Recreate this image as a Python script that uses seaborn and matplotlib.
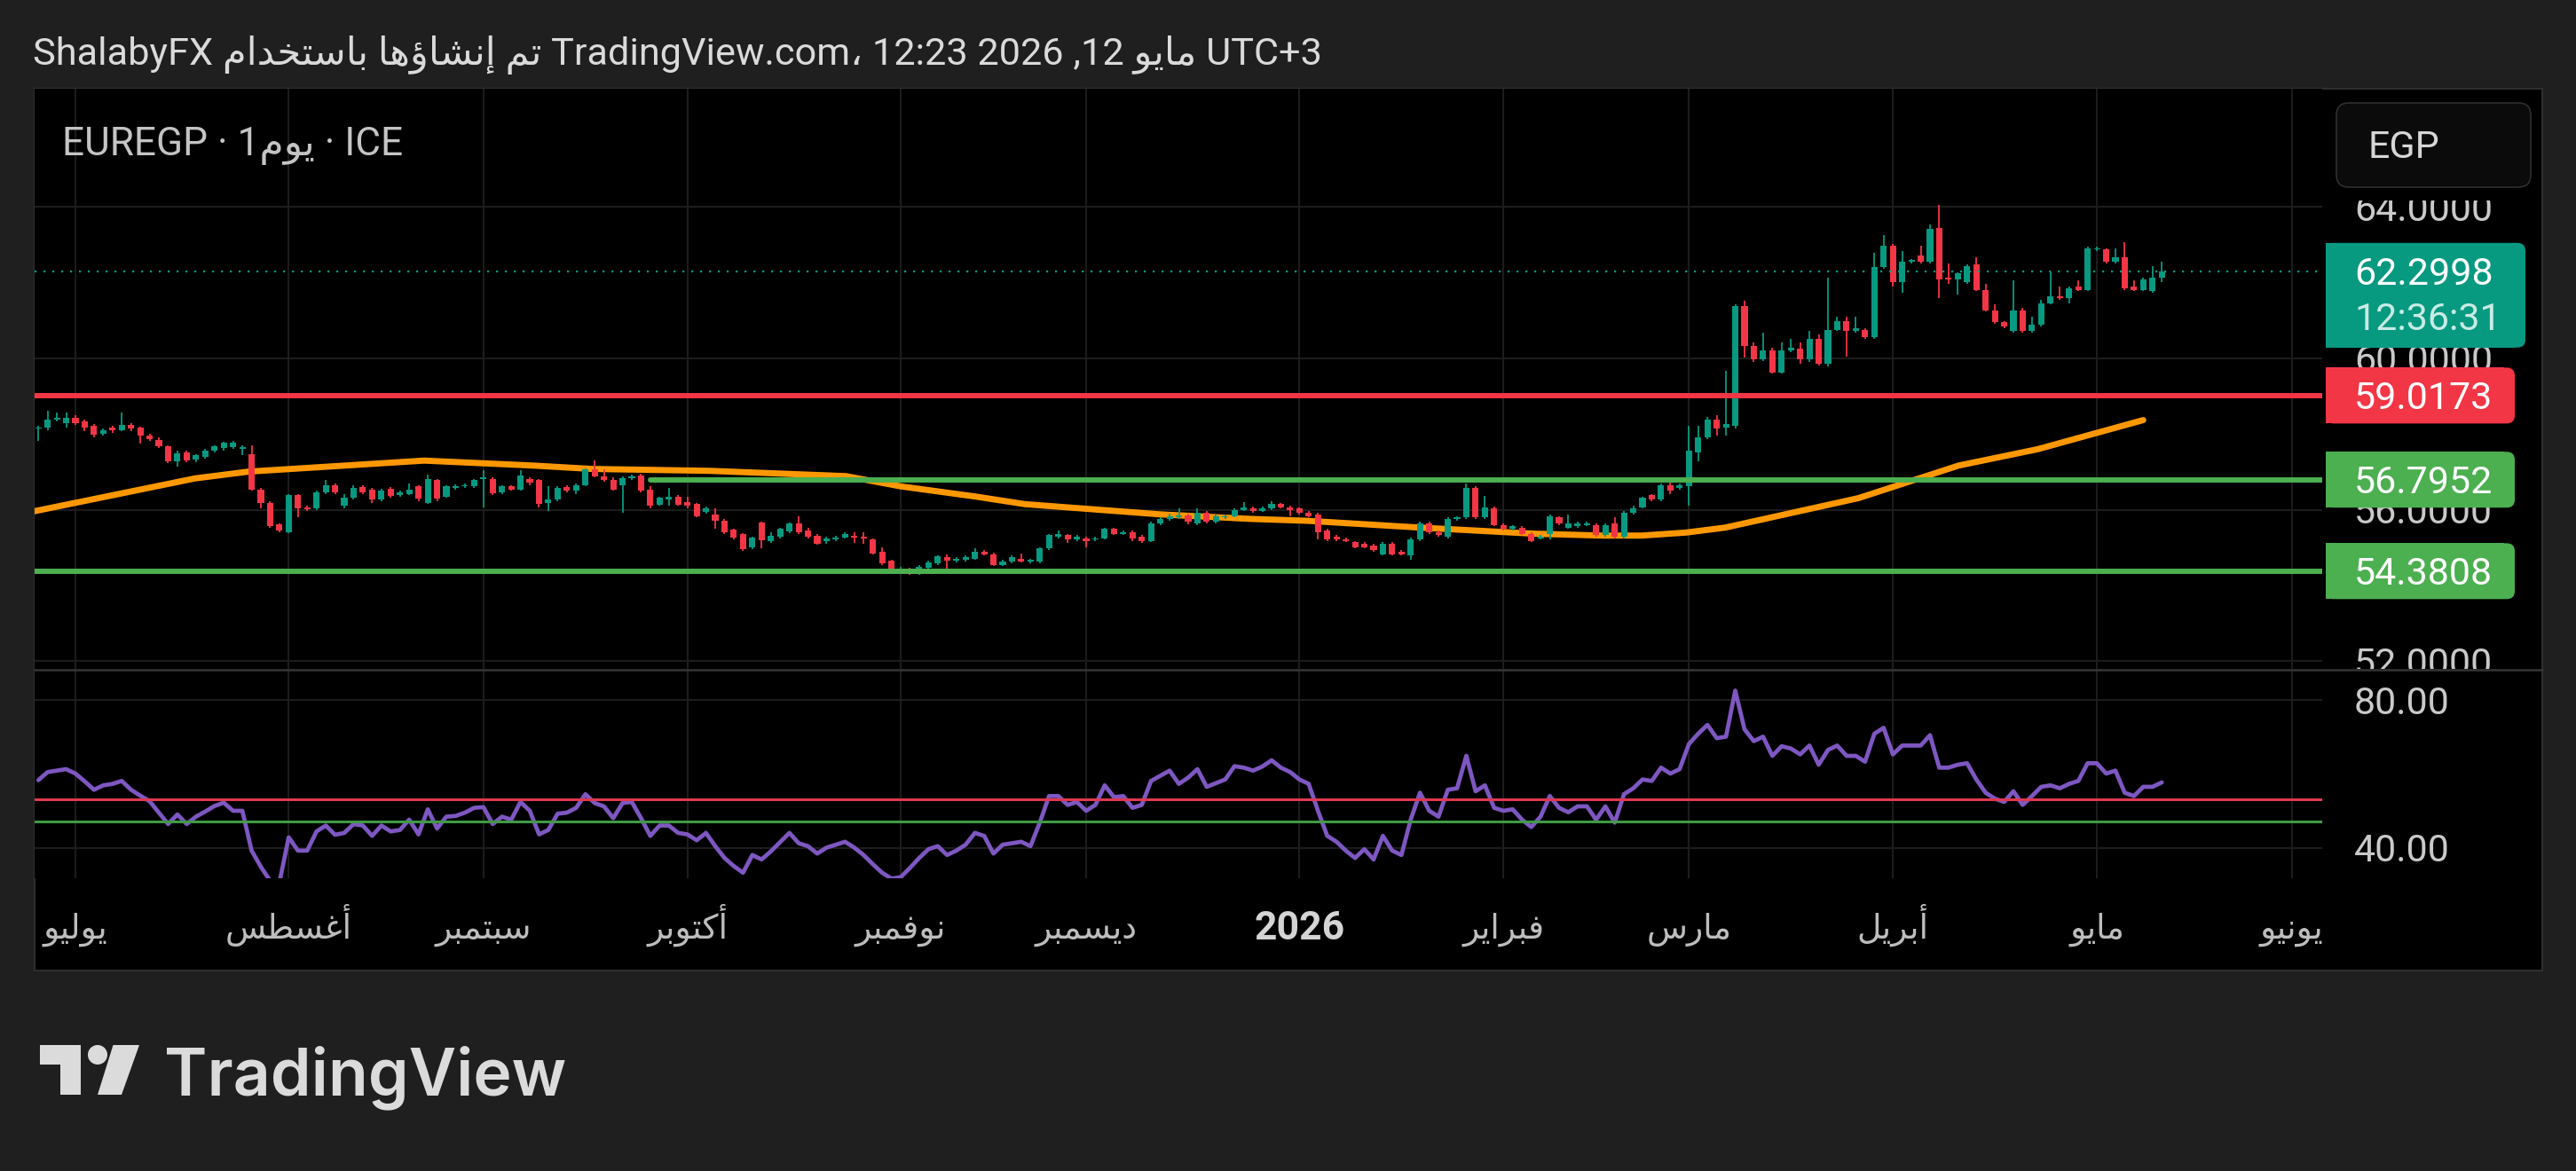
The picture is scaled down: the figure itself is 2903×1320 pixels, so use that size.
import matplotlib
matplotlib.use("Agg")
import numpy as np
import pandas as pd
import matplotlib.pyplot as plt
import seaborn as sns
from matplotlib.patches import Rectangle, FancyBboxPatch, Circle, Polygon
from matplotlib.transforms import IdentityTransform, Bbox

# ---------------------------------------------------------------- data
bar_index = list(range(-4, 226))
opens = [
 58.14, 58.16, 58.38, 58.30, 58.44, 58.34, 58.22, 58.00, 58.18, 58.10,
 58.24, 58.16, 57.95, 57.85, 57.67, 57.28, 57.52, 57.32, 57.40, 57.56,
 57.64, 57.66, 57.61, 57.48, 56.54, 56.19, 55.61, 55.41, 56.39, 56.07,
 56.03, 56.46, 56.66, 56.11, 56.31, 56.60, 56.54, 56.27, 56.56, 56.39,
 56.42, 56.62, 56.19, 56.78, 56.35, 56.58, 56.62, 56.62, 56.82, 56.82,
 56.46, 56.62, 56.54, 56.82, 56.78, 56.19, 56.27, 56.60, 56.50, 56.66,
 57.07, 56.88, 56.80, 56.66, 56.83, 56.91, 56.54, 56.13, 56.28, 56.35,
 56.21, 56.15, 55.94, 55.88, 55.72, 55.47, 55.35, 55.00, 55.66, 55.18,
 55.29, 55.43, 55.63, 55.45, 55.32, 55.18, 55.22, 55.27, 55.32, 55.29,
 55.22, 54.90, 54.65, 54.33, 54.41, 54.32, 54.47, 54.59, 54.76, 54.65,
 54.67, 54.71, 54.90, 54.83, 54.55, 54.63, 54.71, 54.63, 54.63, 54.98,
 55.29, 55.33, 55.22, 55.25, 55.22, 55.25, 55.49, 55.37, 55.41, 55.29,
 55.18, 55.64, 55.76, 55.80, 55.86, 55.64, 55.92, 55.68, 55.80, 55.84,
 55.99, 56.04, 55.98, 56.04, 56.15, 56.07, 56.04, 55.92, 55.88, 55.45,
 55.29, 55.22, 55.14, 55.10, 55.06, 54.82, 55.10, 54.90, 54.79, 55.22,
 55.64, 55.41, 55.29, 55.76, 55.80, 56.58, 55.80, 56.04, 55.60, 55.49,
 55.53, 55.37, 55.25, 55.37, 55.80, 55.53, 55.57, 55.60, 55.60, 55.33,
 55.64, 55.29, 55.92, 56.07, 56.39, 56.27, 56.66, 56.58, 56.62, 57.52,
 57.91, 58.38, 58.18, 58.22, 61.38, 60.33, 59.98, 60.21, 59.63, 60.21,
 60.25, 59.98, 60.52, 59.86, 60.76, 60.99, 60.72, 60.76, 60.56, 62.40,
 62.98, 62.01, 62.55, 62.71, 62.55, 63.45, 62.12, 62.08, 62.01, 62.48,
 61.81, 61.27, 60.95, 60.72, 61.27, 60.72, 60.88, 61.46, 61.65, 61.58,
 61.89, 61.81, 62.87, 62.87, 62.55, 62.67, 61.89, 61.81, 61.77, 62.12]
highs = [
 58.22, 58.61, 58.57, 58.57, 58.50, 58.38, 58.26, 58.14, 58.22, 58.57,
 58.30, 58.20, 58.00, 57.91, 57.71, 57.56, 57.56, 57.48, 57.61, 57.71,
 57.80, 57.83, 57.71, 57.71, 56.58, 56.22, 55.65, 56.42, 56.42, 56.11,
 56.50, 56.78, 56.70, 56.42, 56.66, 56.64, 56.58, 56.56, 56.60, 56.52,
 56.70, 56.66, 56.93, 56.82, 56.66, 56.68, 56.70, 56.82, 57.05, 56.86,
 56.66, 56.66, 57.05, 56.86, 56.82, 56.62, 56.62, 56.64, 56.70, 57.10,
 57.30, 57.07, 56.85, 56.88, 56.93, 56.96, 56.62, 56.35, 56.58, 56.39,
 56.35, 56.19, 56.08, 56.04, 55.76, 55.51, 55.39, 55.30, 55.70, 55.41,
 55.53, 55.66, 55.82, 55.53, 55.37, 55.29, 55.32, 55.41, 55.41, 55.41,
 55.25, 55.00, 54.69, 54.49, 54.47, 54.55, 54.65, 54.80, 54.82, 54.75,
 54.80, 54.98, 54.94, 54.86, 54.67, 54.79, 54.85, 54.71, 55.02, 55.37,
 55.45, 55.37, 55.33, 55.29, 55.29, 55.53, 55.53, 55.45, 55.45, 55.33,
 55.68, 55.80, 55.90, 56.03, 55.90, 56.04, 55.96, 55.88, 55.88, 56.03,
 56.20, 56.08, 56.08, 56.23, 56.19, 56.10, 56.07, 55.96, 55.92, 55.49,
 55.33, 55.26, 55.18, 55.14, 55.10, 55.14, 55.14, 54.94, 55.26, 55.68,
 55.68, 55.45, 55.80, 55.84, 56.70, 56.62, 56.37, 56.08, 55.64, 55.60,
 55.57, 55.41, 55.33, 55.88, 55.84, 55.88, 55.68, 55.68, 55.64, 55.64,
 55.80, 55.96, 56.10, 56.35, 56.42, 56.70, 56.74, 56.70, 58.22, 58.22,
 58.45, 58.50, 59.67, 61.42, 61.52, 60.41, 60.68, 60.29, 60.41, 60.52,
 60.41, 60.72, 60.62, 62.12, 61.11, 61.11, 61.11, 60.80, 62.79, 63.26,
 63.02, 62.83, 62.63, 62.98, 63.53, 64.04, 62.51, 62.28, 62.48, 62.67,
 61.97, 61.42, 60.99, 62.05, 61.34, 61.11, 61.54, 62.28, 61.89, 61.89,
 62.05, 62.94, 62.94, 62.90, 62.90, 63.06, 62.05, 62.12, 62.44, 62.55]
lows = [
 57.83, 58.10, 58.34, 58.16, 58.24, 58.07, 57.91, 57.95, 58.03, 58.07,
 58.07, 57.75, 57.83, 57.64, 57.24, 57.13, 57.26, 57.26, 57.36, 57.52,
 57.56, 57.61, 57.44, 56.50, 56.03, 55.53, 55.41, 55.38, 55.80, 55.98,
 56.00, 56.42, 56.42, 56.03, 56.27, 56.42, 56.19, 56.23, 56.31, 56.35,
 56.39, 56.23, 56.15, 56.23, 56.31, 56.54, 56.58, 56.58, 56.07, 56.39,
 56.42, 56.50, 56.50, 56.66, 56.07, 55.96, 56.23, 56.46, 56.42, 56.62,
 56.85, 56.74, 56.50, 55.92, 56.80, 56.46, 56.05, 56.10, 56.11, 56.10,
 56.05, 55.80, 55.90, 55.49, 55.37, 55.22, 54.92, 54.96, 54.98, 55.12,
 55.25, 55.39, 55.37, 55.25, 55.08, 55.10, 55.18, 55.24, 55.12, 55.10,
 54.82, 54.55, 54.30, 54.30, 54.28, 54.28, 54.43, 54.55, 54.32, 54.61,
 54.63, 54.67, 54.79, 54.51, 54.51, 54.59, 54.60, 54.59, 54.59, 54.94,
 55.25, 55.12, 55.18, 55.02, 55.18, 55.22, 55.33, 55.33, 55.18, 55.12,
 55.14, 55.60, 55.72, 55.76, 55.62, 55.60, 55.64, 55.64, 55.76, 55.80,
 55.96, 55.92, 55.94, 56.00, 56.03, 55.84, 55.88, 55.80, 55.22, 55.18,
 55.18, 55.14, 54.98, 54.98, 54.90, 54.79, 54.79, 54.79, 54.67, 55.18,
 55.37, 55.29, 55.25, 55.72, 55.76, 55.76, 55.76, 55.56, 55.45, 55.45,
 55.33, 55.14, 55.21, 55.22, 55.60, 55.49, 55.53, 55.56, 55.29, 55.29,
 55.25, 55.25, 55.88, 56.03, 56.23, 56.23, 56.42, 56.54, 56.11, 57.28,
 57.87, 57.95, 57.95, 58.14, 60.02, 59.90, 59.94, 59.60, 59.60, 60.17,
 59.86, 59.90, 59.82, 59.78, 60.72, 60.05, 60.68, 60.52, 60.52, 62.36,
 61.89, 61.73, 62.51, 62.51, 62.51, 61.58, 61.97, 61.69, 61.97, 61.77,
 61.23, 60.92, 60.80, 60.68, 60.68, 60.68, 60.84, 61.42, 61.54, 61.46,
 61.77, 61.77, 62.83, 62.51, 62.51, 61.81, 61.77, 61.77, 61.73, 62.01]
closes = [
 58.18, 58.38, 58.42, 58.44, 58.30, 58.18, 57.99, 58.10, 58.10, 58.24,
 58.14, 57.95, 57.87, 57.69, 57.28, 57.50, 57.30, 57.44, 57.56, 57.67,
 57.77, 57.78, 57.66, 56.54, 56.19, 55.57, 55.45, 56.39, 56.03, 56.02,
 56.46, 56.64, 56.46, 56.33, 56.58, 56.46, 56.27, 56.52, 56.36, 56.46,
 56.54, 56.29, 56.82, 56.29, 56.62, 56.62, 56.66, 56.78, 56.86, 56.44,
 56.62, 56.54, 56.91, 56.72, 56.15, 56.27, 56.58, 56.50, 56.66, 57.07,
 56.88, 56.78, 56.54, 56.83, 56.89, 56.50, 56.10, 56.31, 56.35, 56.13,
 56.11, 55.84, 56.05, 55.71, 55.41, 55.27, 54.96, 55.27, 55.19, 55.32,
 55.49, 55.63, 55.41, 55.29, 55.11, 55.24, 55.27, 55.35, 55.27, 55.25,
 54.85, 54.59, 54.32, 54.41, 54.33, 54.49, 54.61, 54.77, 54.65, 54.71,
 54.75, 54.90, 54.83, 54.55, 54.63, 54.75, 54.63, 54.67, 54.98, 55.33,
 55.37, 55.21, 55.29, 55.18, 55.25, 55.49, 55.37, 55.41, 55.25, 55.18,
 55.64, 55.76, 55.84, 55.86, 55.68, 55.92, 55.68, 55.84, 55.84, 55.99,
 56.07, 55.96, 56.04, 56.15, 56.07, 55.99, 55.92, 55.84, 55.41, 55.22,
 55.22, 55.18, 55.02, 55.02, 54.94, 55.10, 54.82, 54.83, 55.22, 55.64,
 55.41, 55.33, 55.76, 55.80, 56.58, 55.80, 56.06, 55.60, 55.49, 55.56,
 55.37, 55.18, 55.29, 55.84, 55.64, 55.64, 55.64, 55.64, 55.33, 55.60,
 55.29, 55.92, 56.04, 56.31, 56.27, 56.66, 56.50, 56.66, 57.56, 57.91,
 58.38, 58.14, 58.26, 61.38, 60.33, 59.98, 60.21, 59.63, 60.21, 60.29,
 59.98, 60.52, 59.86, 60.76, 60.99, 60.72, 60.80, 60.56, 62.40, 62.98,
 62.01, 62.55, 62.59, 62.55, 63.41, 62.08, 62.08, 62.24, 62.44, 61.81,
 61.27, 60.95, 60.84, 61.27, 60.72, 60.88, 61.46, 61.65, 61.58, 61.85,
 61.81, 62.90, 62.90, 62.55, 62.67, 61.85, 61.81, 62.08, 62.12, 62.30]
rsi_values = [
 58.3, 60.5, 60.9, 61.3, 60.1, 58.0, 55.7, 56.9, 57.3, 58.1,
 55.7, 54.1, 52.6, 49.5, 46.4, 49.0, 46.4, 48.4, 49.8, 51.3,
 52.2, 50.0, 50.0, 39.2, 34.8, 31.0, 30.5, 42.8, 39.2, 39.2,
 44.4, 46.0, 43.5, 44.0, 46.4, 46.0, 43.2, 46.0, 44.4, 44.8,
 47.6, 43.6, 50.4, 45.2, 48.4, 48.6, 49.5, 50.8, 51.0, 46.4,
 48.4, 47.6, 52.4, 50.0, 43.6, 44.8, 49.2, 49.5, 50.8, 54.5,
 52.1, 51.2, 48.0, 52.1, 52.4, 48.0, 43.2, 46.0, 46.0, 44.0,
 43.6, 42.0, 44.0, 40.4, 37.2, 35.0, 33.2, 38.0, 36.8, 39.0,
 41.5, 44.0, 41.2, 40.4, 38.4, 40.0, 40.8, 41.6, 40.0, 38.0,
 35.5, 33.2, 31.6, 32.0, 34.5, 37.2, 39.6, 40.4, 38.0, 39.2,
 40.8, 44.0, 43.2, 38.4, 40.8, 41.2, 41.6, 40.4, 46.8, 54.0,
 54.0, 51.6, 52.4, 50.0, 51.6, 56.9, 53.7, 54.0, 50.8, 51.6,
 58.1, 59.5, 60.9, 57.3, 59.0, 61.3, 56.5, 57.5, 58.5, 62.1,
 61.7, 60.9, 62.0, 63.7, 61.7, 60.5, 58.5, 57.3, 50.0, 43.2,
 41.6, 39.2, 37.2, 39.6, 36.8, 43.2, 39.2, 38.0, 47.6, 54.9,
 50.0, 48.4, 55.7, 56.1, 64.9, 55.3, 56.9, 50.8, 50.0, 50.4,
 47.6, 45.6, 48.4, 54.0, 50.8, 49.6, 51.2, 51.2, 47.6, 51.2,
 46.8, 54.5, 56.1, 58.5, 58.1, 61.7, 60.1, 61.3, 68.1, 70.9,
 73.3, 69.7, 70.1, 82.6, 72.1, 68.9, 70.1, 64.9, 67.5, 66.9,
 65.3, 67.7, 62.5, 66.5, 67.7, 64.9, 64.9, 63.3, 70.9, 72.5,
 65.3, 67.7, 67.7, 67.7, 70.5, 61.7, 61.7, 62.5, 62.9, 58.5,
 54.9, 53.3, 52.4, 55.3, 51.6, 54.0, 56.5, 56.9, 56.1, 57.3,
 58.1, 62.9, 62.9, 60.1, 60.9, 54.9, 54.0, 56.5, 56.5, 57.7]
ma_index = [-4.5, 12.9, 18.7, 37.6, 49.3, 55.7, 68.4, 83.1, 89.0, 97.1, 102.4, 117.0,
            126.8, 132.9, 145.1, 157.3, 164.7, 168.9, 173.7, 177.9, 192.3, 203.1, 211.6, 223.0]
ma_values = [55.96, 56.83, 57.01, 57.30, 57.17, 57.08, 57.03, 56.89, 56.62, 56.35, 56.15, 55.88,
             55.76, 55.71, 55.53, 55.37, 55.32, 55.32, 55.40, 55.53, 56.31, 57.17, 57.60, 58.37]
month_labels = ["يوليو", "أغسطس", "سبتمبر", "أكتوبر", "نوفمبر", "ديسمبر", "2026",
                "فبراير", "مارس", "أبريل", "مايو", "يونيو"]
month_index = [0, 23, 44, 66, 89, 109, 132, 154, 174, 196, 218, 239]
price_ticks = [52, 56, 60, 64]
rsi_ticks = [40, 80]
resistance = 59.0173
support_upper = 56.7952
support_upper_start = 62
support_lower = 54.3808
last_price = 62.2998
countdown = "12:36:31"
rsi_upper = 53
rsi_lower = 47
symbol_parts = ("EUREGP · 1", "يوم", " · ICE")
currency = "EGP"
header_parts = ("ShalabyFX", "تم إنشاؤها باستخدام", "TradingView.com، 12:23 2026 ,12", "مايو", "UTC+3")
brand = "TradingView"

# ---------------------------------------------------------------- arabic shaping
AR = {
    'ا': ('\uFE8D', '\uFE8E', None, None), 'أ': ('\uFE83', '\uFE84', None, None),
    'إ': ('\uFE87', '\uFE88', None, None), 'ؤ': ('\uFE85', '\uFE86', None, None),
    'د': ('\uFEA9', '\uFEAA', None, None), 'ر': ('\uFEAD', '\uFEAE', None, None),
    'و': ('\uFEED', '\uFEEE', None, None),
    'ب': ('\uFE8F', '\uFE90', '\uFE91', '\uFE92'), 'ت': ('\uFE95', '\uFE96', '\uFE97', '\uFE98'),
    'خ': ('\uFEA5', '\uFEA6', '\uFEA7', '\uFEA8'), 'س': ('\uFEB1', '\uFEB2', '\uFEB3', '\uFEB4'),
    'ش': ('\uFEB5', '\uFEB6', '\uFEB7', '\uFEB8'), 'ط': ('\uFEC1', '\uFEC2', '\uFEC3', '\uFEC4'),
    'غ': ('\uFECD', '\uFECE', '\uFECF', '\uFED0'), 'ف': ('\uFED1', '\uFED2', '\uFED3', '\uFED4'),
    'ك': ('\uFED9', '\uFEDA', '\uFEDB', '\uFEDC'), 'ل': ('\uFEDD', '\uFEDE', '\uFEDF', '\uFEE0'),
    'م': ('\uFEE1', '\uFEE2', '\uFEE3', '\uFEE4'), 'ن': ('\uFEE5', '\uFEE6', '\uFEE7', '\uFEE8'),
    'ه': ('\uFEE9', '\uFEEA', '\uFEEB', '\uFEEC'), 'ي': ('\uFEF1', '\uFEF2', '\uFEF3', '\uFEF4'),
}


def shape_word(w):
    out = []
    for i, ch in enumerate(w):
        f = AR.get(ch)
        if f is None:
            out.append(ch)
            continue
        prev = w[i - 1] if i > 0 else None
        nxt = w[i + 1] if i + 1 < len(w) else None
        jp = prev in AR and AR[prev][2] is not None
        jn = f[2] is not None and nxt in AR
        out.append(f[3] if (jp and jn) else f[1] if jp else f[2] if jn else f[0])
    return ''.join(reversed(out))


def shape_rtl(s):
    return ' '.join(shape_word(w) for w in reversed(s.split(' ')))


# ---------------------------------------------------------------- style
W, H, DPI = 2903, 1320, 100
sns.set_theme(style="dark")
plt.rcParams['font.family'] = ['Roboto', 'DejaVu Sans']
FAM = ['Roboto', 'DejaVu Sans']
UP, DN, GRN, ORG, PUR = "#089981", "#f23645", "#4caf50", "#ff9800", "#7e57c2"
BG, GRID, TXT = "#1f1f1f", "#1c1c1c", "#c9c9c9"
ID = IdentityTransform()

fig = plt.figure(figsize=(W / DPI, H / DPI), dpi=DPI)
fig.patch.set_facecolor(BG)


def D(x, y):
    return (x, H - y)


fig.add_artist(Rectangle(D(39, 1094), 2865 - 39, 1094 - 100, transform=ID,
                         facecolor='black', edgecolor='#2e2e2e', linewidth=1.5, zorder=-5))


def axes_px(x0, y0, x1, y1):
    return fig.add_axes([x0 / W, 1 - y1 / H, (x1 - x0) / W, (y1 - y0) / H])


ax_p = axes_px(39, 100, 2617, 754)
ax_r = axes_px(39, 756, 2617, 990)

# ---------------------------------------------------------------- price pane
df = pd.DataFrame(dict(i=bar_index, o=opens, h=highs, l=lows, c=closes))
col = np.where(df.c >= df.o, UP, DN)
sns.lineplot(x=ma_index, y=ma_values, ax=ax_p, color=ORG, linewidth=5, estimator=None,
             sort=False, legend=False)
ma_line = ax_p.lines[-1]
ma_line.set_zorder(2.5)
ma_line.set_solid_capstyle('round')
ax_p.vlines(df.i, df.l, df.h, colors=col, linewidth=1.3, zorder=3)
ax_p.bar(df.i, np.maximum((df.c - df.o).abs(), 0.03), bottom=np.minimum(df.o, df.c),
         width=0.68, color=col, linewidth=0, zorder=3.1)

ax_p.set_xlim(-4.4, 242.3)
ax_p.set_ylim(51.80, 67.12)
ax_p.axhline(resistance, color=DN, linewidth=4.3, zorder=4)
ax_p.axhline(support_lower, color=GRN, linewidth=4.3, zorder=4)
lc = ax_p.hlines(support_upper, support_upper_start, ax_p.get_xlim()[1], color=GRN,
                 linewidth=4.3, zorder=4)
lc.set_capstyle('round')
ax_p.axhline(last_price, color=UP, linewidth=1.6, linestyle=(0, (1, 3.5)), zorder=4)
ax_p.set_yticks(price_ticks)

# ---------------------------------------------------------------- rsi pane
sns.lineplot(x=bar_index, y=rsi_values, ax=ax_r, color=PUR, linewidth=3.4, estimator=None,
             sort=False, legend=False)
ax_r.axhline(rsi_upper, color="#e0384f", linewidth=2.2, zorder=3)
ax_r.axhline(rsi_lower, color="#3f9a43", linewidth=2.2, zorder=3)
ax_r.set_xlim(-4.4, 242.3)
ax_r.set_ylim(31.70, 88.01)
ax_r.set_yticks(rsi_ticks)

for ax in (ax_p, ax_r):
    ax.set_facecolor('black')
    for s in ax.spines.values():
        s.set_visible(False)
    ax.set_xticks(month_index)
    ax.tick_params(length=0, labelbottom=False, labelleft=False)
    ax.grid(True, color=GRID, linewidth=1.5)
    ax.set_axisbelow(True)
    ax.set_xlabel('')
    ax.set_ylabel('')

# pane separator
fig.add_artist(plt.Line2D([39, 2865], [H - 755, H - 755], transform=ID, color='#363636',
                          linewidth=1.8, zorder=5))

renderer = fig.canvas.get_renderer()


def fit(t, width):
    bb = t.get_window_extent(renderer)
    t.set_fontsize(t.get_fontsize() * width / bb.width)


def ytop(ax, v):
    return H - ax.transData.transform((0, v))[1]


FS = 31
# price scale labels
clip = Bbox.from_extents(2617, H - 754, 2865, H - 226)
for v in price_ticks:
    t = fig.text(2653, H - (ytop(ax_p, v) + 15.5), f"{v:.4f}", transform=ID, fontsize=FS,
                 color=TXT, ha='left', va='baseline', zorder=6, family=FAM)
    t.set_clip_box(clip)
    t.set_clip_on(True)
for v in rsi_ticks:
    fig.text(2653, H - (ytop(ax_r, v) + 15.5), f"{v:.2f}", transform=ID, fontsize=FS,
             color=TXT, ha='left', va='baseline', zorder=6, family=FAM)


def label_box(yt, yb, w, color):
    x0 = 2621
    fig.add_artist(Rectangle(D(x0, yb), w - 12, yb - yt, transform=ID, facecolor=color,
                             linewidth=0, zorder=7))
    fig.add_artist(FancyBboxPatch(D(x0, yb), w, yb - yt, transform=ID,
                                  boxstyle="round,pad=0,rounding_size=9",
                                  facecolor=color, linewidth=0, zorder=7))


for v, color in ((resistance, DN), (support_upper, GRN), (support_lower, GRN)):
    yc = ytop(ax_p, v)
    label_box(yc - 31.5, yc + 31.5, 213, color)
    fig.text(2653, H - (yc + 15.5), f"{v:.4f}", transform=ID, fontsize=FS, color='white',
             ha='left', va='baseline', zorder=8, family=FAM)
yc = ytop(ax_p, last_price)
label_box(yc - 32, yc + 86, 225, UP)
fig.text(2653, H - (yc + 15.5), f"{last_price:.4f}", transform=ID, fontsize=FS,
         color='white', ha='left', va='baseline', zorder=8, family=FAM)
fig.text(2653, H - (yc + 66.5), countdown, transform=ID, fontsize=FS, color='#c8ebe4',
         ha='left', va='baseline', zorder=8, family=FAM)

# currency button
fig.add_artist(FancyBboxPatch(D(2633, 211), 219, 95, transform=ID,
                              boxstyle="round,pad=0,rounding_size=14",
                              facecolor='#0b0b0b', edgecolor='#2f2f2f', linewidth=1.2, zorder=7))
fig.text(2668, H - 178.5, currency, transform=ID, fontsize=FS, color='#d6d6d6',
         ha='left', va='baseline', zorder=8, family=FAM)

# time axis labels
sizer = fig.text(0, 0, shape_word("سبتمبر"), transform=ID, fontsize=FS, family=FAM)
fit(sizer, 109)
FS_M = sizer.get_fontsize()
sizer.remove()
for lab, i in zip(month_labels, month_index):
    xd = ax_r.transData.transform((i, 0))[0]
    if lab.isdigit():
        fig.text(xd, H - 1059, lab, transform=ID, fontsize=FS + 1, fontweight='bold',
                 color='#d4d4d4', ha='center', va='baseline', family=FAM)
    else:
        fig.text(xd, H - 1058, shape_word(lab), transform=ID, fontsize=FS_M, color='#bdbdbd',
                 ha='center', va='baseline', family=FAM)

# symbol legend
sym = symbol_parts[0] + shape_rtl(symbol_parts[1]) + symbol_parts[2]
t = fig.text(70, H - 175, sym, transform=ID, fontsize=FS, color='#c4c4c4', ha='left',
             va='baseline', family=FAM, zorder=6)
fit(t, 383)

# header
hdr = (header_parts[0] + ' ' + shape_rtl(header_parts[1]) + ' ' + header_parts[2] + ' '
       + shape_rtl(header_parts[3]) + ' ' + header_parts[4])
t = fig.text(37, H - 73, hdr, transform=ID, fontsize=FS, color='#dadada', ha='left',
             va='baseline', family=FAM)
fit(t, 1451)

# TradingView logo + wordmark
LC = '#dbdbdb'
fig.add_artist(Rectangle(D(45, 1200), 46, 22, transform=ID, facecolor=LC, linewidth=0))
fig.add_artist(Rectangle(D(68, 1234), 23, 56, transform=ID, facecolor=LC, linewidth=0))
fig.add_artist(Circle(D(110, 1189), 11, transform=ID, facecolor=LC, linewidth=0))
fig.add_artist(Polygon([D(127.5, 1178), D(157, 1178), D(137, 1234), D(110, 1234)],
                       closed=True, transform=ID, facecolor=LC, linewidth=0))
t = fig.text(185, H - 1234, brand, transform=ID, fontsize=56, color=LC, ha='left',
             va='baseline', family=['Inter', 'DejaVu Sans'], fontweight='semibold')
fit(t, 453)

fig.savefig("out.png", dpi=DPI, facecolor=fig.get_facecolor())
